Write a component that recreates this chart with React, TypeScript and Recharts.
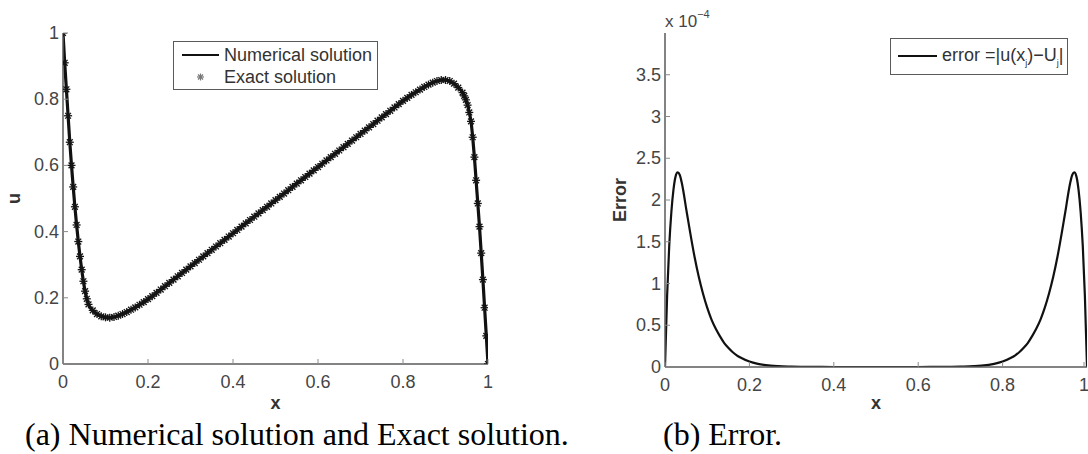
import React from 'react'
import { LineChart, Line, XAxis, YAxis, Legend, Label } from 'recharts'

// (a) solution: grid is finer inside the two boundary layers
const xSolution = [
  0, 0.004, 0.008, 0.012, 0.016, 0.02, 0.024, 0.028, 0.032, 0.036, 0.04, 0.044, 0.048, 0.052, 0.056, 0.06,
  0.07, 0.08, 0.09, 0.1, 0.11, 0.12, 0.13, 0.14, 0.15, 0.16, 0.17, 0.18, 0.19, 0.2, 0.21,
  0.22, 0.23, 0.24, 0.25, 0.26, 0.27, 0.28, 0.29, 0.3, 0.31, 0.32, 0.33, 0.34, 0.35, 0.36, 0.37, 0.38, 0.39,
  0.4, 0.41, 0.42, 0.43, 0.44, 0.45, 0.46, 0.47, 0.48, 0.49, 0.5, 0.51, 0.52, 0.53, 0.54, 0.55, 0.56, 0.57,
  0.58, 0.59, 0.6, 0.61, 0.62, 0.63, 0.64, 0.65, 0.66, 0.67, 0.68, 0.69, 0.7, 0.71, 0.72, 0.73, 0.74, 0.75,
  0.76, 0.77, 0.78, 0.79, 0.8,
  0.81, 0.82, 0.83, 0.84, 0.85, 0.86, 0.87, 0.88, 0.89, 0.9, 0.91, 0.92, 0.93, 0.94,
  0.944, 0.948, 0.952, 0.956, 0.96, 0.964, 0.968, 0.972, 0.976, 0.98, 0.984, 0.988, 0.992, 0.996, 1,
]
const uExact = [
  1, 0.91, 0.83, 0.75, 0.67, 0.6, 0.535, 0.475, 0.42, 0.37, 0.325, 0.285, 0.25, 0.22, 0.197, 0.18,
  0.162, 0.151, 0.144, 0.141, 0.14, 0.142, 0.146, 0.151, 0.157, 0.164, 0.171, 0.179, 0.187, 0.196, 0.205,
  0.215, 0.225, 0.235, 0.245, 0.255, 0.265, 0.275, 0.285, 0.295, 0.305, 0.315, 0.325, 0.335, 0.345, 0.355, 0.365, 0.375, 0.385,
  0.395, 0.405, 0.415, 0.425, 0.435, 0.445, 0.455, 0.465, 0.475, 0.485, 0.495, 0.505, 0.515, 0.525, 0.535, 0.545, 0.555, 0.565,
  0.575, 0.585, 0.595, 0.605, 0.615, 0.625, 0.635, 0.645, 0.655, 0.665, 0.675, 0.685, 0.695, 0.705, 0.715, 0.725, 0.735, 0.745,
  0.755, 0.765, 0.775, 0.785, 0.795,
  0.804, 0.813, 0.821, 0.829, 0.837, 0.844, 0.85, 0.855, 0.858, 0.858, 0.855, 0.847, 0.835, 0.82,
  0.81, 0.798, 0.782, 0.76, 0.733, 0.685, 0.625, 0.555, 0.485, 0.415, 0.335, 0.255, 0.17, 0.085, 0,
]
// numerical and exact curves coincide at this scale
const uNumerical = uExact

// (b) error, in units of 1e-4
const xError = [
  0, 0.005, 0.01, 0.015, 0.02, 0.025, 0.03, 0.035, 0.04, 0.045, 0.05, 0.055, 0.06, 0.07, 0.08, 0.09,
  0.1, 0.11, 0.12, 0.13, 0.14, 0.15, 0.16, 0.17, 0.18, 0.2, 0.22, 0.25, 0.3, 0.35, 0.4, 0.5,
  0.6, 0.65, 0.7, 0.75, 0.78, 0.8, 0.82, 0.83, 0.84, 0.85, 0.86, 0.87, 0.88, 0.89, 0.9, 0.91,
  0.92, 0.93, 0.94, 0.945, 0.95, 0.955, 0.96, 0.965, 0.97, 0.975, 0.98, 0.985, 0.99, 0.995, 1,
]
const errorE4 = [
  0, 0.85, 1.45, 1.85, 2.12, 2.28, 2.33, 2.3, 2.2, 2.06, 1.9, 1.75, 1.6, 1.32, 1.08, 0.88,
  0.71, 0.57, 0.46, 0.37, 0.29, 0.23, 0.18, 0.14, 0.11, 0.065, 0.038, 0.017, 0.005, 0.001, 0, 0,
  0, 0.001, 0.005, 0.017, 0.038, 0.065, 0.11, 0.14, 0.18, 0.23, 0.29, 0.37, 0.46, 0.57, 0.71, 0.88,
  1.08, 1.32, 1.6, 1.75, 1.9, 2.06, 2.2, 2.3, 2.33, 2.28, 2.12, 1.85, 1.45, 0.85, 0,
]

const xTicks = [0, 0.2, 0.4, 0.6, 0.8, 1]
const uTicks = [0, 0.2, 0.4, 0.6, 0.8, 1]
const errTicks = [0, 0.5, 1, 1.5, 2, 2.5, 3, 3.5]

const FONT = '"Liberation Sans", Arial, Helvetica, sans-serif'
const AXIS = '#5a5a5a'
const TICK = '#8a8a8a'
const LABEL = '#454545'

const solutionData = xSolution.map((x, i) => ({ x, num: uNumerical[i], exact: uExact[i] }))
const errorData = xError.map((x, i) => ({ x, err: errorE4[i] }))

const BottomTick = (props: any) => {
  const { x, y, payload } = props
  return (
    <g>
      <line x1={x} x2={x} y1={y} y2={y - 5} stroke={TICK} />
      <text x={x} y={y + 24} textAnchor="middle" fontSize={18} fill={LABEL} fontFamily={FONT}>{payload.value}</text>
    </g>
  )
}
const LeftTick = (props: any) => {
  const { x, y, payload } = props
  return (
    <g>
      <line x1={x} x2={x + 5} y1={y} y2={y} stroke={TICK} />
      <text x={x - 4} y={y + 6} textAnchor="end" fontSize={18} fill={LABEL} fontFamily={FONT}>{payload.value}</text>
    </g>
  )
}
const TopTick = (props: any) => <line x1={props.x} x2={props.x} y1={props.y} y2={props.y + 5} stroke={TICK} />
const RightTick = (props: any) => <line x1={props.x} x2={props.x - 5} y1={props.y} y2={props.y} stroke={TICK} />

const Star = (props: any) => {
  const { cx, cy, index } = props
  if (cx == null || cy == null) return <g key={`s${index}`} />
  const r = 4
  const d = 2.9
  return (
    <g key={`s${index}`} stroke="#151515" strokeWidth={1.3}>
      <line x1={cx - r} x2={cx + r} y1={cy} y2={cy} />
      <line x1={cx} x2={cx} y1={cy - r} y2={cy + r} />
      <line x1={cx - d} x2={cx + d} y1={cy - d} y2={cy + d} />
      <line x1={cx - d} x2={cx + d} y1={cy + d} y2={cy - d} />
    </g>
  )
}

const SolutionLegend = (props: any) => {
  // line entry first, marker entry second
  const entries = [...(props.payload || [])].sort((a: any, b: any) => (a.dataKey === 'num' ? -1 : 1) - (b.dataKey === 'num' ? -1 : 1))
  return (
    <div style={{ position: 'relative', width: 205, height: 49, border: `1.5px solid ${AXIS}`, boxSizing: 'border-box', background: '#fff', fontFamily: FONT, fontSize: 18, color: '#333' }}>
      {entries.map((entry: any, i: number) => (
        <div key={entry.value} style={{ position: 'absolute', left: 0, top: i === 0 ? 2 : 24, height: 22, lineHeight: '22px', whiteSpace: 'nowrap' }}>
          <svg width={48} height={22} style={{ position: 'absolute', left: 0, top: 0 }}>
            {entry.dataKey === 'exact'
              ? <g stroke="#777" strokeWidth={1.2}><line x1={23} x2={30} y1={11} y2={11} /><line x1={26.5} x2={26.5} y1={7.5} y2={14.5} /><line x1={24} x2={29} y1={8.5} y2={13.5} /><line x1={24} x2={29} y1={13.5} y2={8.5} /></g>
              : <line x1={8} x2={45} y1={11} y2={11} stroke="#111" strokeWidth={2.2} />}
          </svg>
          <span style={{ position: 'absolute', left: 50 }}>{entry.value}</span>
        </div>
      ))}
    </div>
  )
}

const ErrorLegend = () => (
  <div style={{ position: 'relative', width: 178, height: 37, border: `1.5px solid ${AXIS}`, boxSizing: 'border-box', background: '#fff', fontFamily: FONT, fontSize: 18, color: '#333', whiteSpace: 'nowrap' }}>
    <svg width={48} height={34} style={{ position: 'absolute', left: 0, top: 0 }}>
      <line x1={7} x2={46} y1={17} y2={17} stroke="#111" strokeWidth={2.2} />
    </svg>
    <span style={{ position: 'absolute', left: 51, top: 5, lineHeight: '22px' }}>
      error =|u(x<sub style={{ fontSize: 9 }}>j</sub>)−U<sub style={{ fontSize: 9 }}>j</sub>|
    </span>
  </div>
)

const AxisTitle = ({ text, dx, dy, rotate }: { text: string; dx: number; dy: number; rotate?: boolean }) => (props: any) => {
  const vb = props.viewBox
  const x = vb.x + (rotate ? dx : vb.width / 2)
  const y = rotate ? vb.y + vb.height / 2 : vb.y + dy
  return (
    <text x={x} y={y} textAnchor="middle" fontSize={18} fontWeight="bold" fill="#333" fontFamily={FONT}
      transform={rotate ? `rotate(-90 ${x} ${y})` : undefined}>{text}</text>
  )
}

const ErrorYTitle = (props: any) => {
  const vb = props.viewBox
  const x = vb.x + 21
  const y = vb.y + vb.height / 2
  return (
    <g fontFamily={FONT} fill="#333">
      <text x={x} y={y} textAnchor="middle" fontSize={18} fontWeight="bold" transform={`rotate(-90 ${x} ${y})`}>Error</text>
      <text x={vb.x + 60} y={vb.y - 6} fontSize={17} fill={LABEL}>x 10<tspan dy={-9} fontSize={11}>−4</tspan></text>
    </g>
  )
}

const axisLine = { stroke: AXIS, strokeWidth: 1.5 }

export default function App() {
  return (
    <div style={{ position: 'absolute', left: 0, top: 0, width: 1088, height: 454, background: '#fff', overflow: 'hidden' }}>
      <div style={{ position: 'absolute', left: 0, top: 0 }}>
        <LineChart width={544} height={454} data={solutionData} margin={{ top: 33, right: 56, bottom: 60, left: 13 }}>
          <XAxis dataKey="x" type="number" domain={[0, 1]} ticks={xTicks} height={30} tickSize={0} tickMargin={0}
            tickLine={false} tick={<BottomTick />} axisLine={axisLine} allowDataOverflow>
            <Label content={AxisTitle({ text: 'x', dx: 0, dy: 45 })} />
          </XAxis>
          <XAxis xAxisId="top" orientation="top" dataKey="x" type="number" domain={[0, 1]} ticks={xTicks} height={0}
            tickSize={0} tickMargin={0} tickLine={false} tick={<TopTick />} axisLine={axisLine} allowDataOverflow />
          <YAxis type="number" domain={[0, 1]} ticks={uTicks} width={50} tickSize={0} tickMargin={0}
            tickLine={false} tick={<LeftTick />} axisLine={axisLine} allowDataOverflow>
            <Label content={AxisTitle({ text: 'u', dx: 7, dy: 0, rotate: true })} />
          </YAxis>
          <YAxis yAxisId="right" orientation="right" type="number" domain={[0, 1]} ticks={uTicks} width={0}
            tickSize={0} tickMargin={0} tickLine={false} tick={<RightTick />} axisLine={axisLine} allowDataOverflow />
          <Line dataKey="num" name="Numerical solution" type="monotone" stroke="#111" strokeWidth={3.2} dot={false}
            isAnimationActive={false} />
          <Line dataKey="exact" name="Exact solution" type="monotone" stroke="none" dot={Star} activeDot={false}
            isAnimationActive={false} legendType="star" />
          <Legend layout="vertical" align="center" verticalAlign="middle" content={<SolutionLegend />}
            wrapperStyle={{ left: 173, top: 41, width: 205, height: 49 }} />
        </LineChart>
      </div>
      <div style={{ position: 'absolute', left: 544, top: 0 }}>
        <LineChart width={544} height={454} data={errorData} margin={{ top: 33, right: 1, bottom: 57, left: 61 }}>
          <XAxis dataKey="x" type="number" domain={[0, 1]} ticks={xTicks} height={30} tickSize={0} tickMargin={0}
            tickLine={false} tick={<BottomTick />} axisLine={axisLine} allowDataOverflow>
            <Label content={AxisTitle({ text: 'x', dx: 0, dy: 42 })} />
          </XAxis>
          <XAxis xAxisId="top" orientation="top" dataKey="x" type="number" domain={[0, 1]} ticks={xTicks} height={0}
            tickSize={0} tickMargin={0} tickLine={false} tick={<TopTick />} axisLine={axisLine} allowDataOverflow />
          <YAxis type="number" domain={[0, 4]} ticks={errTicks} width={60} tickSize={0} tickMargin={0}
            tickLine={false} tick={<LeftTick />} axisLine={axisLine} allowDataOverflow>
            <Label content={ErrorYTitle} />
          </YAxis>
          <YAxis yAxisId="right" orientation="right" type="number" domain={[0, 4]} ticks={errTicks} width={0}
            tickSize={0} tickMargin={0} tickLine={false} tick={<RightTick />} axisLine={axisLine} allowDataOverflow />
          <Line dataKey="err" name="error" type="monotone" stroke="#111" strokeWidth={2.2} dot={false}
            isAnimationActive={false} />
          <Legend layout="vertical" align="center" verticalAlign="middle" content={<ErrorLegend />}
            wrapperStyle={{ left: 346, top: 38, width: 178, height: 37 }} />
        </LineChart>
      </div>
      <div style={{ position: 'absolute', left: 25, top: 418, fontFamily: '"Liberation Serif", "Times New Roman", serif', fontSize: 32, lineHeight: '32px', whiteSpace: 'nowrap', color: '#000' }}>
        (a) Numerical solution and Exact solution.
      </div>
      <div style={{ position: 'absolute', left: 663, top: 418, fontFamily: '"Liberation Serif", "Times New Roman", serif', fontSize: 32, lineHeight: '32px', whiteSpace: 'nowrap', color: '#000' }}>
        (b) Error.
      </div>
    </div>
  )
}
